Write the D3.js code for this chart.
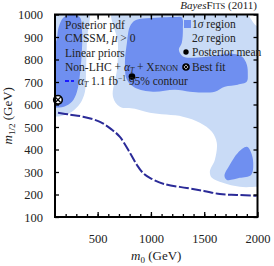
<!DOCTYPE html>
<html><head><meta charset="utf-8">
<script src="https://cdn.jsdelivr.net/npm/d3@7"></script>
<style>
html,body{margin:0;padding:0;background:#fff;}
svg{display:block;font-family:"Liberation Serif","DejaVu Serif",serif;}
</style></head>
<body><svg id="c" width="274" height="266"></svg>
<script>
// ---- data ----
const m0Domain = [100, 2000];
const m12Domain = [100, 1000];
const m0TickLabels = [500, 1000, 1500, 2000];
const m12TickLabels = [100, 200, 300, 400, 500, 600, 700, 800, 900, 1000];

// 2 sigma (light) regions, [m0, m12]
const sigma2Left = [[100,1030],[409,1030],[400,889],[391,755],[381,657],[334,603],[259,568],[166,550],[100,546],[60,546],[60,1030]];
const sigma2Right = [[644,1030],[690,875],[681,755],[644,635],[709,590],[850,581],[990,563],[1300,546],[1459,519],[1572,479],[1618,430],[1600,354],[1553,301],[1572,274],[1675,252],[1834,234],[2003,234],[2060,234],[2060,920],[1975,956],[1928,987],[1862,1030]];
// 1 sigma (dark) regions
const sigma1Left = [[70,850],[110,880],[135,945],[180,987],[259,1000],[334,987],[353,933],[353,844],[334,733],[306,657],[259,612],[184,590],[100,586],[60,586]];
const sigma1Mid = [[803,947],[850,973],[925,982],[1084,987],[1225,989],[1290,987],[1300,933],[1290,875],[1262,844],[1300,813],[1440,809],[1600,817],[1759,826],[1853,813],[1900,777],[1909,733],[1900,702],[1815,688],[1693,679],[1600,657],[1478,653],[1365,657],[1225,666],[1019,657],[850,675],[775,710],[756,786],[775,875]];
const sigma1Low = [[1900,412],[1937,390],[1960,341],[1940,287],[1834,274],[1712,265],[1690,283],[1740,332],[1815,385]];
// alpha_T 1.1 fb^-1 95% contour
const contourAlphaT = [[128,563],[241,555],[362,546],[522,523],[634,488],[709,456],[803,385],[869,331],[925,296],[990,274],[1122,247],[1337,229],[1497,216],[1647,202],[1806,198],[1993,194]];
const posteriorMean = [822, 724];
const bestFit = [128, 621];

// ---- layout ----
const L = 55, R = 257.5, T = 14.5, B = 217;
const col1 = "#6f8ff0", col2 = "#c9dbf6", lineCol = "#2b2b98";

const svg = d3.select("#c");
const x = d3.scaleLinear().domain(m0Domain).range([L, R]);
const y = d3.scaleLinear().domain(m12Domain).range([B, T]);

svg.append("defs").append("clipPath").attr("id","clip")
  .append("rect").attr("x",L).attr("y",T).attr("width",R-L).attr("height",B-T);

const g = svg.append("g").attr("clip-path","url(#clip)");
const area = d3.line().x(d=>x(d[0])).y(d=>y(d[1])).curve(d3.curveCatmullRomClosed.alpha(0.5));
[sigma2Left, sigma2Right].forEach(p => g.append("path").attr("d", area(p)).attr("fill", col2));
[sigma1Left, sigma1Mid, sigma1Low].forEach(p => g.append("path").attr("d", area(p)).attr("fill", col1));

const ln = d3.line().x(d=>x(d[0])).y(d=>y(d[1])).curve(d3.curveCatmullRom.alpha(0.5));
g.append("path").attr("d", ln(contourAlphaT)).attr("fill","none")
  .attr("stroke", lineCol).attr("stroke-width", 2).attr("stroke-dasharray","10,2.5");

// markers
function bestFitMarker(sel, cx, cy, r) {
  const m = sel.append("g").attr("transform", `translate(${cx},${cy})`);
  m.append("circle").attr("r", r).attr("fill","#fff").attr("stroke","#000").attr("stroke-width",1.6);
  const k = r*0.62;
  m.append("path").attr("d",`M${-k},${-k}L${k},${k}M${-k},${k}L${k},${-k}`).attr("stroke","#000").attr("stroke-width",1.3);
}
svg.append("circle").attr("cx", x(posteriorMean[0])).attr("cy", y(posteriorMean[1])).attr("r",3.3).attr("fill","#000");
bestFitMarker(svg, x(bestFit[0]), y(bestFit[1]), 4.3);

// axes / frame
const axB = d3.axisBottom(x).tickValues(d3.range(200, 2000, 100)).tickSize(-3).tickFormat("");
const axBMaj = d3.axisBottom(x).tickValues(m0TickLabels).tickSize(-5).tickPadding(17).tickFormat(d3.format("d"));
const axT = d3.axisTop(x).tickValues(d3.range(200, 2000, 100)).tickSize(-3).tickFormat("");
const axTMaj = d3.axisTop(x).tickValues([500,1000,1500]).tickSize(-5).tickFormat("");
const axL = d3.axisLeft(y).tickValues(m12TickLabels).tickSize(-4).tickPadding(12).tickFormat(d3.format("d"));
const axR = d3.axisRight(y).tickValues(m12TickLabels).tickSize(-4).tickFormat("");
function styleAx(s){ s.select(".domain").remove(); s.selectAll(".tick line").attr("stroke","#000").attr("stroke-width",1.3);
  s.selectAll("text").attr("font-size",12.5).attr("fill","#222").attr("font-family","Liberation Serif, serif"); }
svg.append("g").attr("transform",`translate(0,${B})`).call(axB).call(styleAx);
svg.append("g").attr("transform",`translate(0,${B})`).call(axBMaj).call(styleAx);
svg.append("g").attr("transform",`translate(0,${T})`).call(axT).call(styleAx);
svg.append("g").attr("transform",`translate(0,${T})`).call(axTMaj).call(styleAx);
svg.append("g").attr("transform",`translate(${L},0)`).call(axL).call(styleAx);
svg.append("g").attr("transform",`translate(${R},0)`).call(axR).call(styleAx);
svg.append("rect").attr("x",L).attr("y",T).attr("width",R-L).attr("height",B-T)
  .attr("fill","none").attr("stroke","#000").attr("stroke-width",2);

// axis labels
const xl = svg.append("text").attr("x",(L+R)/2).attr("y",260).attr("text-anchor","middle").attr("font-size",13).attr("fill","#222");
xl.append("tspan").attr("font-style","italic").text("m");
xl.append("tspan").attr("font-size",9).attr("dy",2.5).text("0");
xl.append("tspan").attr("dy",-2.5).text(" (GeV)");
const yl = svg.append("text").attr("transform",`translate(12,${(T+B)/2}) rotate(-90)`).attr("text-anchor","middle").attr("font-size",13).attr("fill","#222");
yl.append("tspan").attr("font-style","italic").text("m");
yl.append("tspan").attr("font-size",9).attr("dy",3).text("1/2");
yl.append("tspan").attr("dy",-3).text(" (GeV)");

// title
const tt = svg.append("text").attr("x",257).attr("y",9).attr("text-anchor","end").attr("font-size",11).attr("fill","#222");
tt.append("tspan").attr("font-style","italic").text("Bayes");
tt.append("tspan").text("F");
tt.append("tspan").attr("font-size",8.5).text("ITS");
tt.append("tspan").text(" (2011)");

// left legend text
const fs = 11.5;
const lx = 65;
function txt(yy){ return svg.append("text").attr("x",lx).attr("y",yy).attr("font-size",fs).attr("fill","#222"); }
txt(29).text("Posterior pdf");
let t2 = txt(42); t2.append("tspan").text("CMSSM, "); t2.append("tspan").attr("font-style","italic").text("μ"); t2.append("tspan").text(" > 0");
txt(57).text("Linear priors");
let t4 = txt(71); t4.append("tspan").text("Non-LHC + "); t4.append("tspan").attr("font-style","italic").text("α");
t4.append("tspan").attr("font-size",7.5).attr("font-style","italic").attr("dy",2).text("T");
t4.append("tspan").attr("dy",-2).text(" + X"); t4.append("tspan").attr("font-size",8.5).text("ENON");
svg.append("line").attr("x1",65).attr("x2",74).attr("y1",81).attr("y2",81).attr("stroke","#1a1aff").attr("stroke-width",1.8).attr("stroke-dasharray","4,2");
let t5 = svg.append("text").attr("x",78).attr("y",85).attr("font-size",fs).attr("fill","#222");
t5.append("tspan").attr("font-style","italic").text("α");
t5.append("tspan").attr("font-size",7.5).attr("font-style","italic").attr("dy",2).text("T");
t5.append("tspan").attr("dy",-2).text(" 1.1 fb");
t5.append("tspan").attr("font-size",7.5).attr("dy",-4).text("−1");
t5.append("tspan").attr("dy",4).text(" 95% contour");

// right legend
const rx = 192;
svg.append("rect").attr("x",184).attr("y",20).attr("width",7).attr("height",8).attr("fill",col1);
svg.append("rect").attr("x",184).attr("y",34).attr("width",7).attr("height",8).attr("fill",col2);
let r1 = svg.append("text").attr("x",rx).attr("y",28).attr("font-size",fs).attr("fill","#222");
r1.append("tspan").text("1"); r1.append("tspan").attr("font-style","italic").text("σ"); r1.append("tspan").text(" region");
let r2 = svg.append("text").attr("x",rx).attr("y",42).attr("font-size",fs).attr("fill","#222");
r2.append("tspan").text("2"); r2.append("tspan").attr("font-style","italic").text("σ"); r2.append("tspan").text(" region");
svg.append("circle").attr("cx",186).attr("cy",52).attr("r",2.7).attr("fill","#000");
svg.append("text").attr("x",rx).attr("y",56).attr("font-size",fs).attr("fill","#222").text("Posterior mean");
bestFitMarker(svg, 186, 67, 3);
svg.append("text").attr("x",rx).attr("y",71).attr("font-size",fs).attr("fill","#222").text("Best fit");
</script></body></html>
